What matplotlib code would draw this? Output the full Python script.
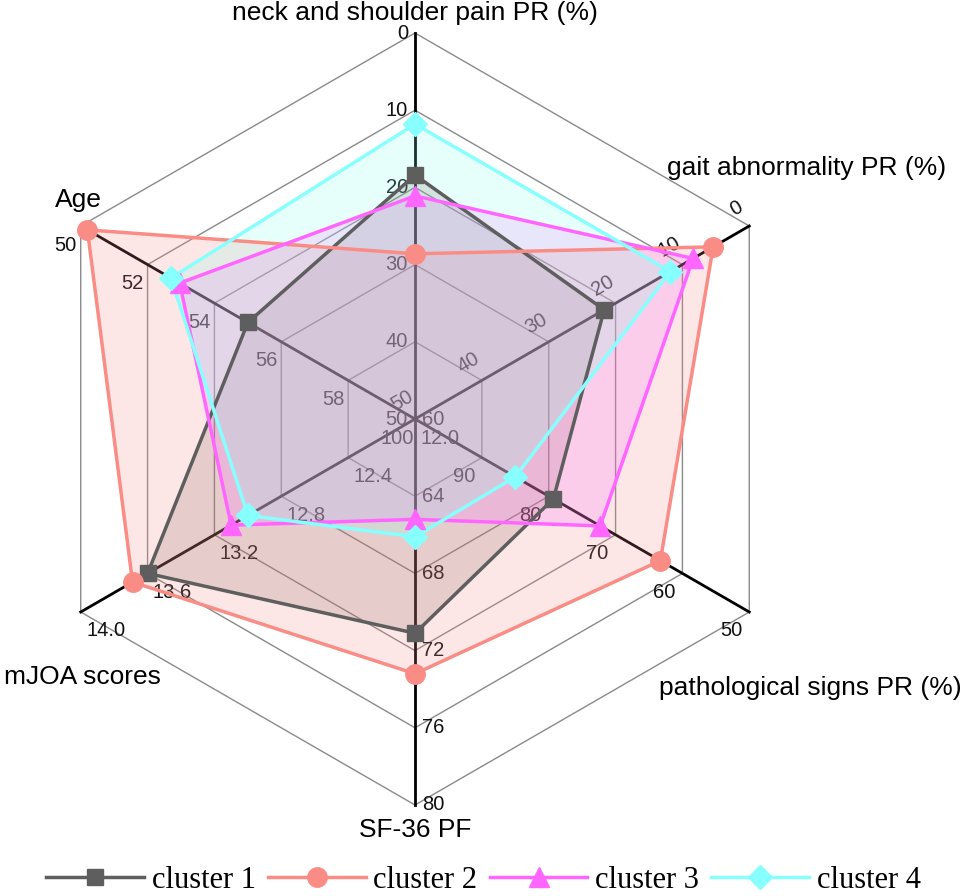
import numpy as np
import matplotlib.pyplot as plt
from matplotlib.lines import Line2D

axis_names = ["neck and shoulder pain PR (%)", "gait abnormality PR (%)",
              "pathological signs PR (%)", "SF-36 PF", "mJOA scores", "Age"]
angles_deg = [90, 30, -30, -90, -150, 150]
center_vals = [50, 50, 100, 60, 12.0, 60]
rim_vals = [0, 0, 50, 80, 14.0, 50]
tick_labels = [
    ["50", "40", "30", "20", "10", "0"],
    ["50", "40", "30", "20", "10", "0"],
    ["100", "90", "80", "70", "60", "50"],
    ["60", "64", "68", "72", "76", "80"],
    ["12.0", "12.4", "12.8", "13.2", "13.6", "14.0"],
    ["", "58", "56", "54", "52", "50"],
]

cluster_names = ["cluster 1", "cluster 2", "cluster 3", "cluster 4"]
cluster1 = [18.4, 21.7, 79.3, 71.1, 13.6, 55.0]
cluster2 = [28.6, 5.4, 63.3, 73.2, 13.69, 50.2]
cluster3 = [21.1, 8.4, 72.3, 65.2, 13.1, 52.96]
cluster4 = [11.8, 11.8, 85.0, 66.1, 13.0, 52.7]

colors = ["#5e5e5e", "#fa8c86", "#ff66ff", "#88ffff"]
fills = ["#7a5a5a", "#f08a84", "#ff66ff", "#88ffe8"]
markers = ["s", "o", "^", "D"]
msizes = [11, 14, 14, 12]

# pixel geometry of the reference
CX, CY, R = 415, 419, 386
W, H = 967, 896


def px(x, y):
    return (x - CX) / R, (CY - y) / R


def to_xy(vals):
    xs, ys = [], []
    for v, a, c, r in zip(vals, angles_deg, center_vals, rim_vals):
        frac = (v - c) / (r - c)
        xs.append(frac * np.cos(np.radians(a)))
        ys.append(frac * np.sin(np.radians(a)))
    return xs, ys


fig = plt.figure(figsize=(W / 100, H / 100), dpi=100)
ax = fig.add_axes([0, 0, 1, 1])
ax.set_xlim(-CX / R, (W - CX) / R)
ax.set_ylim(-(H - CY) / R, CY / R)
ax.axis("off")

th = np.radians(angles_deg + [angles_deg[0]])
# hexagon rings
for f in np.linspace(0.2, 1.0, 5):
    ax.plot(f * np.cos(th), f * np.sin(th), color="#8a8a8a", lw=1.0, zorder=1)
# spokes
for a in angles_deg:
    ax.plot([0, np.cos(np.radians(a))], [0, np.sin(np.radians(a))],
            color="black", lw=2.0, zorder=1)

# tick labels: offset in pixels (dx, dy screen), ha, rotation
lab_style = [
    ((-7, 0), "right", 0),
    ((-13, -18), "center", 30),
    ((-18, 19), "center", 0),
    ((7, 0), "left", 0),
    ((25, 19), "center", 0),
    ((-15, 19), "center", 0),
]
fracs = np.linspace(0, 1, 6)
for i, a in enumerate(angles_deg):
    (ox, oy), ha, rot = lab_style[i]
    for f, t in zip(fracs, tick_labels[i]):
        x = f * np.cos(np.radians(a)) + ox / R
        y = f * np.sin(np.radians(a)) - oy / R
        ax.text(x, y, t, ha=ha, va="center", rotation=rot, fontsize=14.5,
                family="Liberation Sans", color="#111111", zorder=2)

# axis titles
title_pos = [(415, 13), (807, 168), (810, 688), (415, 830), (82, 677), (78, 200)]
for name, (x, y) in zip(axis_names, title_pos):
    xx, yy = px(x, y)
    ax.text(xx, yy, name, ha="center", va="center", fontsize=19,
            family="Liberation Sans", color="black", zorder=2)

handles = []
for i, vals in enumerate([cluster1, cluster2, cluster3, cluster4]):
    xs, ys = to_xy(vals)
    ax.fill(xs, ys, color=fills[i], alpha=0.2, lw=0, zorder=3 + i)
    ax.plot(xs + xs[:1], ys + ys[:1], color=colors[i], lw=2.5, zorder=7 + i)
    ax.plot(xs, ys, ls="none", marker=markers[i], ms=msizes[i],
            color=colors[i], mec=colors[i], zorder=11 + i)
    handles.append(Line2D([], [], color=colors[i], lw=2.5, marker=markers[i],
                          ms=msizes[i], label=cluster_names[i]))

fig.legend(handles=handles, loc="center", bbox_to_anchor=(0.5, 16 / H),
           ncol=4, frameon=False, prop={"family": "Liberation Serif", "size": 22},
           handlelength=3.2, columnspacing=0.4, handletextpad=0.25)

fig.savefig("out.png", dpi=100)
